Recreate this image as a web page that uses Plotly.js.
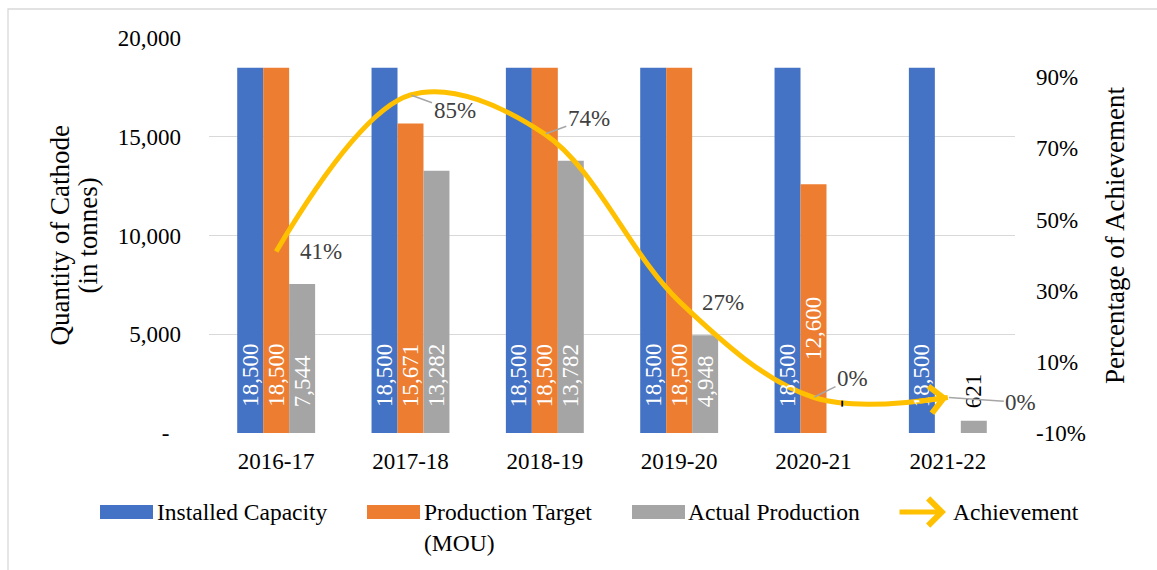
<!DOCTYPE html>
<html><head><meta charset="utf-8">
<script src="https://cdn.plot.ly/plotly-3.0.1.min.js"></script>
<style>html,body{margin:0;padding:0;background:#fff;} #chart{width:1157px;height:570px;}</style>
</head><body><div id="chart"></div>
<script>
const categories = ['2016-17','2017-18','2018-19','2019-20','2020-21','2021-22'];
const installedCapacity = [18500,18500,18500,18500,18500,18500];
const productionTarget = [18500,15671,18500,18500,12600,null];
const actualProduction = [7544,13282,13782,4948,0,621];
const achievement = [0.41,0.85,0.74,0.27,0.00,0.00];
const seriesNames = ['Installed Capacity','Production Target<br>(MOU)','Actual Production','Achievement'];
const seriesColors = ['#4472C4','#ED7D31','#A5A5A5','#FFC000'];
const leftTitleLines = ['Quantity of Cathode','(in tonnes)'];
const rightTitle = 'Percentage of Achievement';
const leftTickVals = [0,5000,10000,15000,20000];
const leftTickText = ['-\u00a0\u00a0','5,000','10,000','15,000','20,000'];
const rightTickVals = [-0.1,0.1,0.3,0.5,0.7,0.9];
const rightTickText = ['-10%','10%','30%','50%','70%','90%'];

const FONT = '"Liberation Serif", "Times New Roman", serif';
const W = 1157, H = 570;
const M = {l:209, r:142, t:38, b:137};
const PW = W - M.l - M.r, PH = H - M.t - M.b;
const px = x => (x - M.l) / PW;
const py = y => (H - M.b - y) / PH;

const barSeries = [installedCapacity, productionTarget, actualProduction];
const traces = barSeries.map((vals, i) => ({
  type: 'bar', x: categories, y: vals, name: seriesNames[i],
  marker: {color: seriesColors[i]}, hoverinfo: 'skip', showlegend: false
}));
traces.push({
  type: 'scatter', mode: 'lines', x: categories, y: achievement, yaxis: 'y2',
  name: seriesNames[3], line: {color: seriesColors[3], width: 5, shape: 'spline', smoothing: 1},
  hoverinfo: 'skip', showlegend: false
});

const annotations = [];
// bar value labels (rotated, inside base)
const slotShift = [-26, 0, 26];
const fmt = v => v === 0 ? '-' : v.toLocaleString('en-US');
barSeries.forEach((vals, i) => {
  vals.forEach((v, j) => {
    if (v === null || v === undefined) return;
    let yshift = 24, color = '#FFFFFF';
    if (i === 1 && j === 4) yshift = 71;
    if (v < 1000) { color = '#000000'; yshift = 23; }
    annotations.push({
      x: categories[j], y: 0, xref: 'x', yref: 'y', xshift: slotShift[i], yshift: yshift,
      text: fmt(v), textangle: -90, showarrow: false, xanchor: 'center', yanchor: 'bottom',
      font: {family: FONT, size: 23, color: color}
    });
  });
});
// achievement labels
const pctOffsets = [
  {arrow:false, xs:22, ys:0},
  {arrow:true, ax:44, ay:16},
  {arrow:true, ax:44, ay:-16},
  {arrow:false, xs:21, ys:-1},
  {arrow:true, ax:39, ay:-19},
  {arrow:true, ax:73, ay:5}
];
achievement.forEach((v, j) => {
  const o = pctOffsets[j];
  const a = {
    x: categories[j], y: v, xref: 'x', yref: 'y2', text: Math.round(v*100) + '%',
    font: {family: FONT, size: 23, color: '#404040'}
  };
  if (o.arrow) {
    Object.assign(a, {showarrow: true, ax: o.ax, ay: o.ay, arrowhead: 0, arrowwidth: 1.5,
      arrowcolor: '#A6A6A6', standoff: 1});
  } else {
    Object.assign(a, {showarrow: false, xanchor: 'left', xshift: o.xs, yshift: o.ys});
  }
  annotations.push(a);
});
// arrow head at end of achievement line
annotations.push({
  x: categories[categories.length-1], y: achievement[achievement.length-1], xref: 'x', yref: 'y2',
  text: '', showarrow: true, ax: -30, ay: 4, arrowhead: 4, arrowsize: 1.05, arrowwidth: 5,
  arrowcolor: seriesColors[3], standoff: 0
});

// axis titles
annotations.push({xref: 'paper', yref: 'paper', x: px(59), y: 0.5, text: leftTitleLines[0],
  textangle: -90, showarrow: false, xanchor: 'center', yanchor: 'middle',
  font: {family: FONT, size: 27, color: '#000000'}});
annotations.push({xref: 'paper', yref: 'paper', x: px(87), y: 0.5, text: leftTitleLines[1],
  textangle: -90, showarrow: false, xanchor: 'center', yanchor: 'middle',
  font: {family: FONT, size: 27, color: '#000000'}});

// custom legend
const shapes = [];
const legendY = 512;
const legendItems = [
  {sw: 100, tx: 157},
  {sw: 367, tx: 424},
  {sw: 632, tx: 688}
];
legendItems.forEach((it, i) => {
  shapes.push({type: 'rect', xref: 'paper', yref: 'paper',
    x0: px(it.sw), x1: px(it.sw + 53), y0: py(legendY - 7), y1: py(legendY + 7),
    fillcolor: seriesColors[i], line: {width: 0}});
  annotations.push({xref: 'paper', yref: 'paper', x: px(it.tx - 2), y: py(legendY - 15),
    xanchor: 'left', yanchor: 'top', align: 'left', showarrow: false, text: seriesNames[i],
    font: {family: FONT, size: 23.5, color: '#000000'}});
});
annotations.push({xref: 'paper', yref: 'paper', x: px(946), y: py(legendY),
  axref: 'pixel', ayref: 'pixel', ax: -48, ay: 0, text: '', showarrow: true,
  arrowhead: 4, arrowsize: 1.05, arrowwidth: 5, arrowcolor: seriesColors[3], standoff: 0});
annotations.push({xref: 'paper', yref: 'paper', x: px(951), y: py(legendY - 15),
  xanchor: 'left', yanchor: 'top', align: 'left', showarrow: false, text: seriesNames[3],
  font: {family: FONT, size: 23.5, color: '#000000'}});

// outer border
shapes.push({type: 'rect', xref: 'paper', yref: 'paper', x0: px(8), x1: px(1170), y0: py(9), y1: py(585),
  line: {color: '#D9D9D9', width: 1.3}, fillcolor: 'rgba(0,0,0,0)', layer: 'below'});

const layout = {
  width: W, height: H, margin: M,
  paper_bgcolor: '#FFFFFF', plot_bgcolor: '#FFFFFF',
  font: {family: FONT, size: 23, color: '#000000'},
  barmode: 'group', bargap: 0.42, bargroupgap: 0,
  showlegend: false,
  xaxis: {type: 'category', range: [-0.5, categories.length - 0.5], autorange: false,
    showgrid: false, showline: false, zeroline: false, ticks: '',
    ticklabelstandoff: 12, tickfont: {family: FONT, size: 23, color: '#000000'}},
  yaxis: {range: [0, 20000], autorange: false, tickvals: leftTickVals, ticktext: leftTickText,
    showgrid: true, gridcolor: '#D9D9D9', gridwidth: 1.3, zeroline: false, showline: false, ticks: '',
    ticklabelstandoff: 27, tickfont: {family: FONT, size: 23, color: '#000000'}},
  yaxis2: {overlaying: 'y', side: 'right', range: [-0.1, 1.01], autorange: false,
    tickvals: rightTickVals, ticktext: rightTickText,
    showgrid: false, zeroline: false, showline: false, ticks: '',
    ticklabelstandoff: 20, tickfont: {family: FONT, size: 23, color: '#000000'},
    title: {text: rightTitle, standoff: 20, font: {family: FONT, size: 27, color: '#000000'}}},
  annotations: annotations,
  shapes: shapes
};

Plotly.newPlot('chart', traces, layout, {displayModeBar: false, staticPlot: true});
</script>
</body></html>
